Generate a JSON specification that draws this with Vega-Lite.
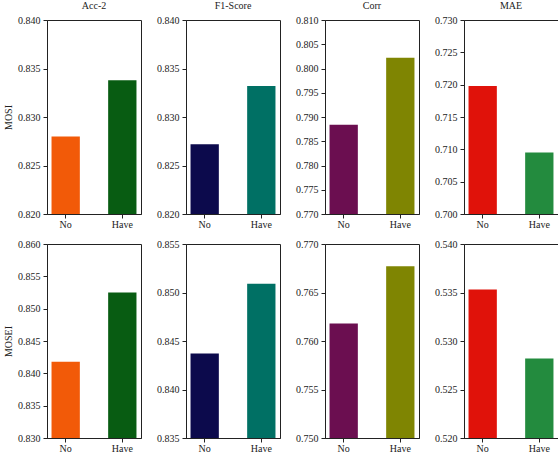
{
  "$schema": "https://vega.github.io/schema/vega-lite/v6.json",
  "padding": {"left": 3, "top": 0, "right": 2, "bottom": 0},
  "datasets": {
    "d": [
      {"ds": "MOSI", "metric": "Acc-2", "cond": "No", "value": 0.828},
      {"ds": "MOSI", "metric": "Acc-2", "cond": "Have", "value": 0.8338},
      {"ds": "MOSI", "metric": "F1-Score", "cond": "No", "value": 0.8272},
      {"ds": "MOSI", "metric": "F1-Score", "cond": "Have", "value": 0.8332},
      {"ds": "MOSI", "metric": "Corr", "cond": "No", "value": 0.7884},
      {"ds": "MOSI", "metric": "Corr", "cond": "Have", "value": 0.8022},
      {"ds": "MOSI", "metric": "MAE", "cond": "No", "value": 0.7198},
      {"ds": "MOSI", "metric": "MAE", "cond": "Have", "value": 0.7095},
      {"ds": "MOSEI", "metric": "Acc-2", "cond": "No", "value": 0.8418},
      {"ds": "MOSEI", "metric": "Acc-2", "cond": "Have", "value": 0.8525},
      {"ds": "MOSEI", "metric": "F1-Score", "cond": "No", "value": 0.8437},
      {"ds": "MOSEI", "metric": "F1-Score", "cond": "Have", "value": 0.8509},
      {"ds": "MOSEI", "metric": "Corr", "cond": "No", "value": 0.7618},
      {"ds": "MOSEI", "metric": "Corr", "cond": "Have", "value": 0.7677},
      {"ds": "MOSEI", "metric": "MAE", "cond": "No", "value": 0.5353},
      {"ds": "MOSEI", "metric": "MAE", "cond": "Have", "value": 0.5282}
    ]
  },
  "config": {
    "font": "Liberation Serif",
    "view": {"stroke": "#222", "strokeWidth": 1},
    "axis": {"labelFontSize": 10, "titleFontSize": 10, "titleFontWeight": "normal", "labelColor": "#222", "titleColor": "#222", "tickColor": "#222", "domainColor": "#222", "grid": false, "tickSize": 4, "labelPadding": 3},
    "axisX": {"labelPadding": 1},
    "title": {"fontSize": 10, "fontWeight": "normal", "color": "#222", "offset": 0},
    "concat": {"spacing": 14}
  },
  "vconcat": [
    {
      "hconcat": [
        {"width": 94, "height": 194, "data": {"name": "d"}, "title": "Acc-2",
         "transform": [{"filter": "datum.ds == 'MOSI' && datum.metric == 'Acc-2'"}],
         "mark": {"type": "bar", "clip": true},
         "encoding": {
           "x": {"field": "cond", "type": "nominal", "sort": ["No", "Have"], "scale": {"paddingInner": 0.5, "paddingOuter": 0.08}, "axis": {"title": null, "labelAngle": 0}},
           "y": {"field": "value", "type": "quantitative", "scale": {"domain": [0.82, 0.84], "zero": false, "nice": false}, "axis": {"values": [0.82, 0.825, 0.83, 0.835, 0.84], "format": ".3f", "title": "MOSI"}},
           "color": {"field": "cond", "type": "nominal", "scale": {"domain": ["No", "Have"], "range": ["#F25A08", "#085C12"]}, "legend": null}
         }},
        {"width": 94, "height": 194, "data": {"name": "d"}, "title": "F1-Score",
         "transform": [{"filter": "datum.ds == 'MOSI' && datum.metric == 'F1-Score'"}],
         "mark": {"type": "bar", "clip": true},
         "encoding": {
           "x": {"field": "cond", "type": "nominal", "sort": ["No", "Have"], "scale": {"paddingInner": 0.5, "paddingOuter": 0.08}, "axis": {"title": null, "labelAngle": 0}},
           "y": {"field": "value", "type": "quantitative", "scale": {"domain": [0.82, 0.84], "zero": false, "nice": false}, "axis": {"values": [0.82, 0.825, 0.83, 0.835, 0.84], "format": ".3f", "title": null}},
           "color": {"field": "cond", "type": "nominal", "scale": {"domain": ["No", "Have"], "range": ["#0C0A4C", "#007064"]}, "legend": null}
         }},
        {"width": 94, "height": 194, "data": {"name": "d"}, "title": "Corr",
         "transform": [{"filter": "datum.ds == 'MOSI' && datum.metric == 'Corr'"}],
         "mark": {"type": "bar", "clip": true},
         "encoding": {
           "x": {"field": "cond", "type": "nominal", "sort": ["No", "Have"], "scale": {"paddingInner": 0.5, "paddingOuter": 0.08}, "axis": {"title": null, "labelAngle": 0}},
           "y": {"field": "value", "type": "quantitative", "scale": {"domain": [0.77, 0.81], "zero": false, "nice": false}, "axis": {"values": [0.77, 0.775, 0.78, 0.785, 0.79, 0.795, 0.8, 0.805, 0.81], "format": ".3f", "title": null}},
           "color": {"field": "cond", "type": "nominal", "scale": {"domain": ["No", "Have"], "range": ["#6B0E50", "#7F8502"]}, "legend": null}
         }},
        {"width": 94, "height": 194, "data": {"name": "d"}, "title": "MAE",
         "transform": [{"filter": "datum.ds == 'MOSI' && datum.metric == 'MAE'"}],
         "mark": {"type": "bar", "clip": true},
         "encoding": {
           "x": {"field": "cond", "type": "nominal", "sort": ["No", "Have"], "scale": {"paddingInner": 0.5, "paddingOuter": 0.08}, "axis": {"title": null, "labelAngle": 0}},
           "y": {"field": "value", "type": "quantitative", "scale": {"domain": [0.7, 0.73], "zero": false, "nice": false}, "axis": {"values": [0.7, 0.705, 0.71, 0.715, 0.72, 0.725, 0.73], "format": ".3f", "title": null}},
           "color": {"field": "cond", "type": "nominal", "scale": {"domain": ["No", "Have"], "range": ["#E0120A", "#238B3E"]}, "legend": null}
         }}
      ],
      "resolve": {"scale": {"color": "independent", "y": "independent"}}
    },
    {
      "hconcat": [
        {"width": 94, "height": 194, "data": {"name": "d"},
         "transform": [{"filter": "datum.ds == 'MOSEI' && datum.metric == 'Acc-2'"}],
         "mark": {"type": "bar", "clip": true},
         "encoding": {
           "x": {"field": "cond", "type": "nominal", "sort": ["No", "Have"], "scale": {"paddingInner": 0.5, "paddingOuter": 0.08}, "axis": {"title": null, "labelAngle": 0}},
           "y": {"field": "value", "type": "quantitative", "scale": {"domain": [0.83, 0.86], "zero": false, "nice": false}, "axis": {"values": [0.83, 0.835, 0.84, 0.845, 0.85, 0.855, 0.86], "format": ".3f", "title": "MOSEI"}},
           "color": {"field": "cond", "type": "nominal", "scale": {"domain": ["No", "Have"], "range": ["#F25A08", "#085C12"]}, "legend": null}
         }},
        {"width": 94, "height": 194, "data": {"name": "d"},
         "transform": [{"filter": "datum.ds == 'MOSEI' && datum.metric == 'F1-Score'"}],
         "mark": {"type": "bar", "clip": true},
         "encoding": {
           "x": {"field": "cond", "type": "nominal", "sort": ["No", "Have"], "scale": {"paddingInner": 0.5, "paddingOuter": 0.08}, "axis": {"title": null, "labelAngle": 0}},
           "y": {"field": "value", "type": "quantitative", "scale": {"domain": [0.835, 0.855], "zero": false, "nice": false}, "axis": {"values": [0.835, 0.84, 0.845, 0.85, 0.855], "format": ".3f", "title": null}},
           "color": {"field": "cond", "type": "nominal", "scale": {"domain": ["No", "Have"], "range": ["#0C0A4C", "#007064"]}, "legend": null}
         }},
        {"width": 94, "height": 194, "data": {"name": "d"},
         "transform": [{"filter": "datum.ds == 'MOSEI' && datum.metric == 'Corr'"}],
         "mark": {"type": "bar", "clip": true},
         "encoding": {
           "x": {"field": "cond", "type": "nominal", "sort": ["No", "Have"], "scale": {"paddingInner": 0.5, "paddingOuter": 0.08}, "axis": {"title": null, "labelAngle": 0}},
           "y": {"field": "value", "type": "quantitative", "scale": {"domain": [0.75, 0.77], "zero": false, "nice": false}, "axis": {"values": [0.75, 0.755, 0.76, 0.765, 0.77], "format": ".3f", "title": null}},
           "color": {"field": "cond", "type": "nominal", "scale": {"domain": ["No", "Have"], "range": ["#6B0E50", "#7F8502"]}, "legend": null}
         }},
        {"width": 94, "height": 194, "data": {"name": "d"},
         "transform": [{"filter": "datum.ds == 'MOSEI' && datum.metric == 'MAE'"}],
         "mark": {"type": "bar", "clip": true},
         "encoding": {
           "x": {"field": "cond", "type": "nominal", "sort": ["No", "Have"], "scale": {"paddingInner": 0.5, "paddingOuter": 0.08}, "axis": {"title": null, "labelAngle": 0}},
           "y": {"field": "value", "type": "quantitative", "scale": {"domain": [0.52, 0.54], "zero": false, "nice": false}, "axis": {"values": [0.52, 0.525, 0.53, 0.535, 0.54], "format": ".3f", "title": null}},
           "color": {"field": "cond", "type": "nominal", "scale": {"domain": ["No", "Have"], "range": ["#E0120A", "#238B3E"]}, "legend": null}
         }}
      ],
      "resolve": {"scale": {"color": "independent", "y": "independent"}}
    }
  ],
  "spacing": 8,
  "resolve": {"scale": {"color": "independent"}}
}
